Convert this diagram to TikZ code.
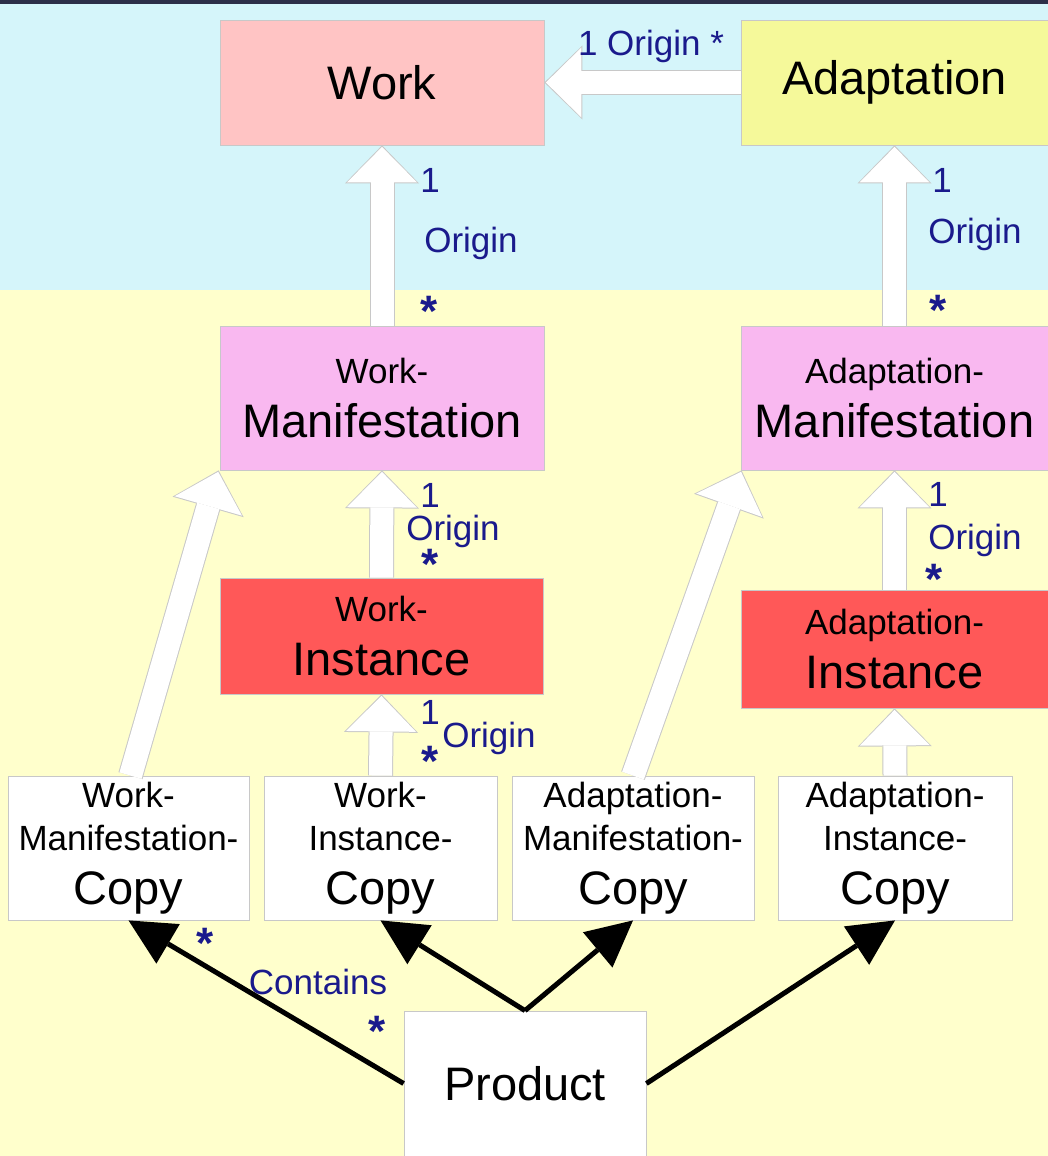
\documentclass[tikz,border=0pt]{standalone}
\usepackage{fontspec}
\setmainfont{Liberation Sans}
\usetikzlibrary{arrows.meta}

\definecolor{skyband}{RGB}{213,245,250}
\definecolor{sandband}{RGB}{255,255,204}
\definecolor{topbar}{RGB}{44,47,72}
\definecolor{workpink}{RGB}{255,196,196}
\definecolor{adaptyellow}{RGB}{245,249,154}
\definecolor{manifviolet}{RGB}{249,184,240}
\definecolor{instred}{RGB}{255,88,88}
\definecolor{labelblue}{RGB}{26,26,140}
\definecolor{boxline}{RGB}{200,200,200}

\newcommand\smalltxt{\fontsize{35}{43}\selectfont}
\newcommand\bigtxt{\fontsize{47}{54}\selectfont}

\tikzset{
  box/.style={draw=boxline, line width=0.8pt, inner sep=0pt, align=center,
    font=\smalltxt},
  lbl/.style={text=labelblue, inner sep=0pt, font=\fontsize{35}{40}\selectfont},
  star/.style={text=labelblue, inner sep=0pt, text height=32pt, text depth=-18pt,
    font=\fontsize{44}{46}\selectfont\bfseries},
  genouter/.style={draw=boxline, line width=25pt,
    -{Triangle[length=38pt,width=74pt,line width=0pt]}},
  geninner/.style={draw=white, line width=23pt, shorten >=1.5pt,
    -{Triangle[length=35.5pt,width=70pt,line width=0pt]}},
  contains/.style={draw=black, line width=5pt,
    -{Triangle[length=46pt,width=46pt,line width=0pt]}}
}

% the white "origin" arrows, drawn once as outline and once as body
\newcommand\originlinks{
  \path (adapt.west) edge (work.east);
  \path (wm.north)   edge (work.south);
  \path (am.north)   edge (adapt.south);
  \path (wi.north)   edge (wm.south);
  \path (ai.north)   edge (am.south);
  \path (wic.north)  edge (wi.south);
  \path (aic.north)  edge (ai.south);
  \path ([xshift=2pt]wmc.north) edge ([xshift=-1pt]wm.south west);
  \path (amc.north) edge ([xshift=1pt]am.south west);
}

\begin{document}
\begin{tikzpicture}[x=1pt,y=-1pt]
  \useasboundingbox (0,0) rectangle (1048,1156);

  % bands
  \fill[topbar]   (0,0)   rectangle (1048,4);
  \fill[skyband]  (0,4)   rectangle (1048,290);
  \fill[sandband] (0,290) rectangle (1048,1156);

  % classes
  \node[box, fill=workpink, minimum width=324pt, minimum height=125pt]
    (work) at (382,82.5) {\bigtxt Work};
  \node[box, fill=adaptyellow, minimum width=307pt, minimum height=125pt]
    (adapt) at (894.5,82.5) {\bigtxt Adaptation};
  \node[box, fill=manifviolet, minimum width=324pt, minimum height=144pt]
    (wm) at (382,398) {Work-\\[11pt]\bigtxt Manifestation};
  \node[box, fill=manifviolet, minimum width=307pt, minimum height=144pt]
    (am) at (894.5,398) {Adaptation-\\[11pt]\bigtxt Manifestation};
  \node[box, fill=instred, minimum width=323pt, minimum height=116pt]
    (wi) at (381.5,636) {Work-\\[11pt]\bigtxt Instance};
  \node[box, fill=instred, minimum width=307pt, minimum height=118pt]
    (ai) at (894.5,649) {Adaptation-\\[11pt]\bigtxt Instance};

  \begin{scope}[every node/.style={box, fill=white, minimum height=144pt}]
    \node[minimum width=241pt] (wmc) at (128.5,848) {Work-\\Manifestation-\\[11pt]\bigtxt Copy};
    \node[minimum width=233pt] (wic) at (380.5,848) {Work-\\Instance-\\[11pt]\bigtxt Copy};
    \node[minimum width=242pt] (amc) at (633,848)   {Adaptation-\\Manifestation-\\[11pt]\bigtxt Copy};
    \node[minimum width=234pt] (aic) at (895,848)   {Adaptation-\\Instance-\\[11pt]\bigtxt Copy};
    \node[minimum width=242pt, minimum height=145pt] (pr) at (525,1083.5) {\bigtxt Product};
  \end{scope}

  % origin arrows
  \begin{scope}[every edge/.style={genouter}]
    \originlinks
  \end{scope}
  \begin{scope}[every edge/.style={geninner}]
    \originlinks
  \end{scope}

  % contains arrows
  \begin{scope}[every edge/.style={contains}]
    \path (pr.west)  edge (wmc.south);
    \path (pr.north) edge (wic.south);
    \path (pr.north) edge (amc.south);
    \path (pr.east)  edge (aic.south);
  \end{scope}

  % multiplicities and roles
  \node[lbl] (topo) at (651,46) {1 Origin *};

  \node[lbl]  (wm1) at (430,180) {1};
  \node[lbl]  (wmo) at (471,243) {Origin};
  \node[star] (wms) at (429,310) {*};

  \node[lbl]  (am1) at (942,180) {1};
  \node[lbl]  (amo) at (975,234) {Origin};
  \node[star] (ams) at (938,309) {*};

  \node[lbl]  (wi1) at (430,495) {1};
  \node[lbl]  (wio) at (453,531) {Origin};
  \node[star] (wis) at (430,563) {*};

  \node[lbl]  (ai1) at (938,494) {1};
  \node[lbl]  (aio) at (975,540) {Origin};
  \node[star] (ais) at (934,578) {*};

  \node[lbl]  (wc1) at (430,712) {1};
  \node[lbl]  (wco) at (489,738) {Origin};
  \node[star] (wcs) at (430,760) {*};

  \node[star] (cs1) at (205,942)  {*};
  \node[lbl]  (con) at (318,982)  {Contains};
  \node[star] (cs2) at (377,1030) {*};
\end{tikzpicture}
\end{document}
